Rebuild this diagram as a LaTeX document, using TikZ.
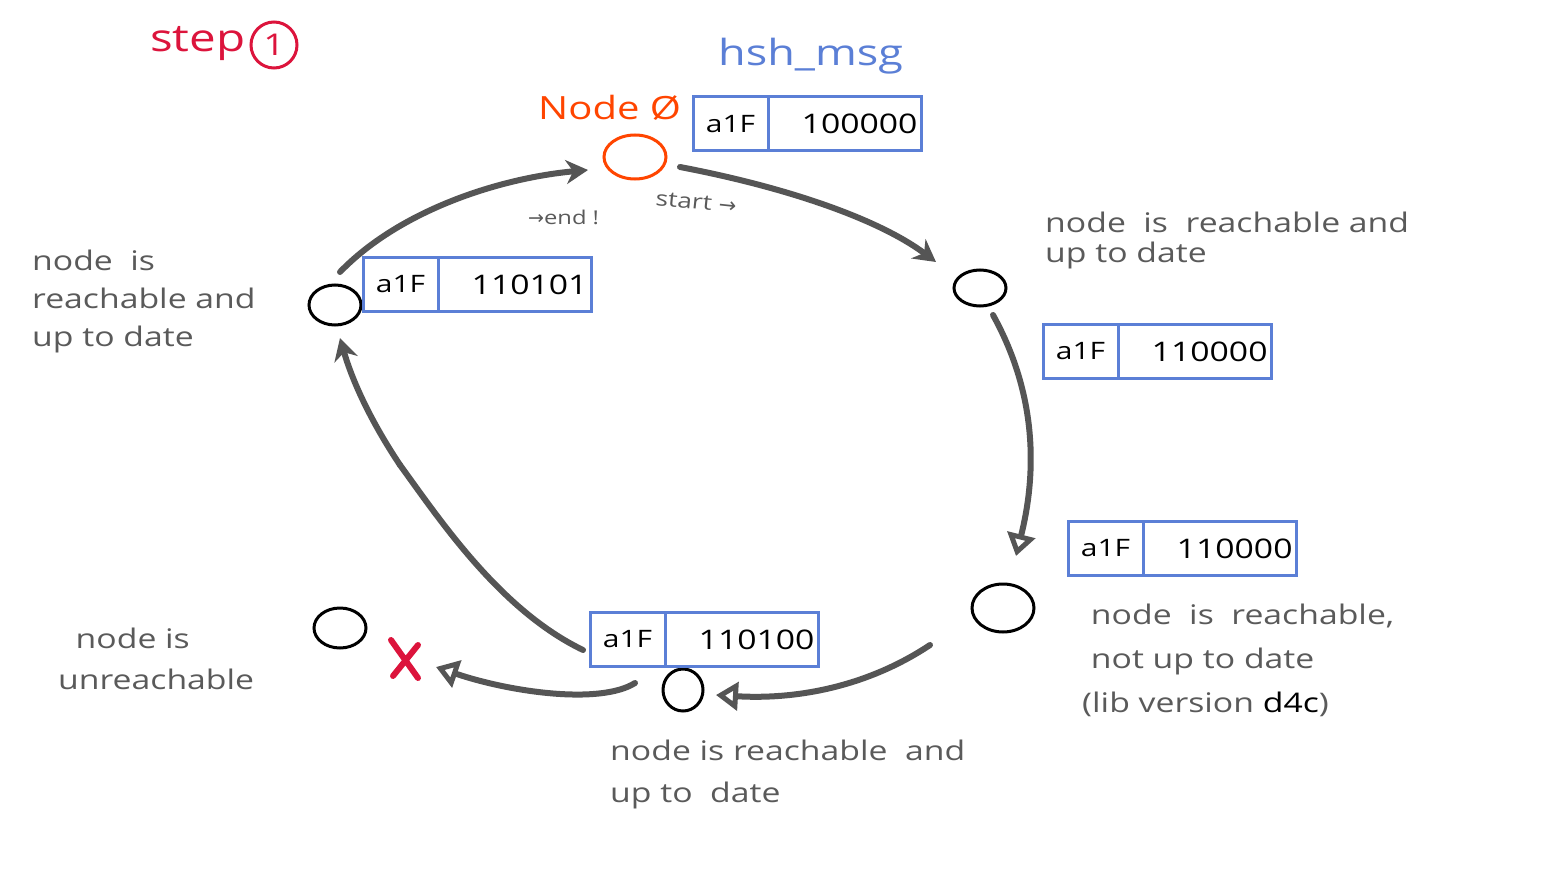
\documentclass[tikz,border=0pt]{standalone}
\usepackage{fontspec}
\setmainfont[FakeStretch=1.25]{Open Sans}
\newfontfamily\symfont{DejaVu Sans}
\usetikzlibrary{shapes.geometric,arrows.meta}
\definecolor{inkgray}{HTML}{555555}
\definecolor{txtgray}{HTML}{5A5A5A}
\definecolor{boxblue}{HTML}{5B7FD6}
\definecolor{stepred}{HTML}{DC143C}
\definecolor{nodeorange}{HTML}{FF4500}
\tikzset{
  x=1pt,y=-1pt,
  keycell/.style={draw=boxblue,line width=3pt,rectangle,minimum width=75pt,minimum height=54pt,outer sep=0pt,inner sep=4pt,anchor=west,font=\fontsize{24}{26}\selectfont,text=black},
  valcell/.style={draw=boxblue,line width=3pt,rectangle,minimum width=153pt,minimum height=54pt,outer sep=0pt,inner sep=3pt,anchor=west,align=right,text width=146pt,font=\fontsize{27}{28}\selectfont,text=black},
  peer/.style={draw=black,line width=3pt,ellipse,inner sep=0pt},
  note/.style={text=txtgray,font=\fontsize{27}{30}\selectfont,align=left,anchor=north west,inner sep=0pt},
  flow/.style={draw=inkgray,line width=6pt,line cap=round},
  tipfill/.style={-{Stealth[length=22pt,width=24pt]}},
  tipopen/.style={-{Triangle[open,length=22pt,width=28pt,line width=5pt]}},
}
\begin{document}
\begin{tikzpicture}
\useasboundingbox (0,0) rectangle (1550,872);
\fill[white] (0,0) rectangle (1550,872);

% titles
\node[anchor=base west,inner sep=0pt,text=stepred,font=\fontsize{38}{38}\selectfont] (steplbl) at (150,52) {step};
\node[draw=stepred,line width=3pt,circle,minimum size=46pt,inner sep=0pt,text=stepred,font=\fontsize{30}{30}\selectfont] (stepnum) at (274,45) {1};
\node[anchor=base west,inner sep=0pt,text=boxblue,font=\fontsize{36}{36}\selectfont] (hsh) at (718,66) {hsh\_msg};
\node[anchor=base west,inner sep=0pt,text=nodeorange,font=\fontsize{32}{32}\selectfont] (n0lbl) at (538,120) {Node Ø};

% peers
\node[peer,draw=nodeorange,minimum width=62pt,minimum height=44pt] (n0) at (635,157) {};
\node[peer,minimum width=52pt,minimum height=36pt] (n1) at (980,288) {};
\node[peer,minimum width=62pt,minimum height=48pt] (n2) at (1003,608) {};
\node[peer,minimum width=40pt,minimum height=42pt] (n3) at (683,690) {};
\node[peer,minimum width=52pt,minimum height=40pt] (n4) at (340,628) {};
\node[peer,minimum width=52pt,minimum height=40pt] (n5) at (335,305) {};

% hash boxes
\node[keycell] (b1k) at (693,124) {a1F};
\node[valcell] (b1v) at (b1k.east) {100000};
\node[keycell] (b2k) at (1043,351.5) {a1F};
\node[valcell] (b2v) at (b2k.east) {110000};
\node[keycell] (b3k) at (1068,548.5) {a1F};
\node[valcell] (b3v) at (b3k.east) {110000};
\node[keycell] (b4k) at (590,639.5) {a1F};
\node[valcell] (b4v) at (b4k.east) {110100};
\node[keycell] (b5k) at (363,284.5) {a1F};
\node[valcell] (b5v) at (b5k.east) {110101};

% notes
\node[note] (t1) at (1045,212) {node\ \ is\ \ reachable and\\up to date};
\node[note,font=\fontsize{27}{38}\selectfont] (t5) at (32,250) {node\ \ is\\reachable and\\up to date};
\node[note,font=\fontsize{27}{41}\selectfont] (t4) at (58,628) {\ \ node is\\unreachable};
\node[note,font=\fontsize{27}{42}\selectfont] (t3) at (610,740) {node is reachable\ \ and\\up to\ \ date};
\node[note,font=\fontsize{27}{44}\selectfont] (t2) at (1082,604) {\ node\ \ is\ \ reachable,\\\ not up to date\\(lib version \textcolor{black}{d4c})};
\node[anchor=base west,inner sep=0pt,text=txtgray,font=\fontsize{19}{19}\selectfont] (endlbl) at (528,224) {{\symfont →}end !};
\node[anchor=base west,inner sep=0pt,text=txtgray,font=\fontsize{21}{21}\selectfont,rotate=-6] (startlbl) at (655,205) {start {\symfont →}};

% connector end points
\coordinate (a1s) at (680,167);
\coordinate (a1e) at (936,262);
\coordinate (a2s) at (993,315);
\coordinate (a2e) at (1016,556);
\coordinate (a3s) at (930,645);
\coordinate (a3e) at (716,695);
\coordinate (a4s) at (635,683);
\coordinate (a4e) at (436,667);
\coordinate (a5s) at (583,650);
\coordinate (a5m) at (400,465);
\coordinate (a5e) at (340,338);
\coordinate (a6s) at (340,272);
\coordinate (a6e) at (588,170);

% arrows
\draw[flow,tipfill] (a1s) .. controls (790,188) and (880,220) .. (a1e);
\draw[flow,tipopen] (a2s) .. controls (1040,400) and (1035,480) .. (a2e);
\draw[flow,tipopen] (a3s) .. controls (870,685) and (800,700) .. (a3e);
\draw[flow,tipopen] (a4s) .. controls (600,705) and (510,692) .. (a4e);
\draw[flow] (a5s) .. controls (500,610) and (440,520) .. (a5m);
\draw[flow,tipfill] (a5m) .. controls (370,420) and (352,380) .. (a5e);
\draw[flow,tipfill] (a6s) .. controls (400,210) and (500,178) .. (a6e);

% unreachable mark
\coordinate (xa) at (391,640);
\coordinate (xb) at (418,678);
\coordinate (xc) at (418,645);
\coordinate (xd) at (393,676);
\draw[stepred,line width=6pt,line cap=round] (xa) -- (xb) (xc) -- (xd);
\end{tikzpicture}
\end{document}
